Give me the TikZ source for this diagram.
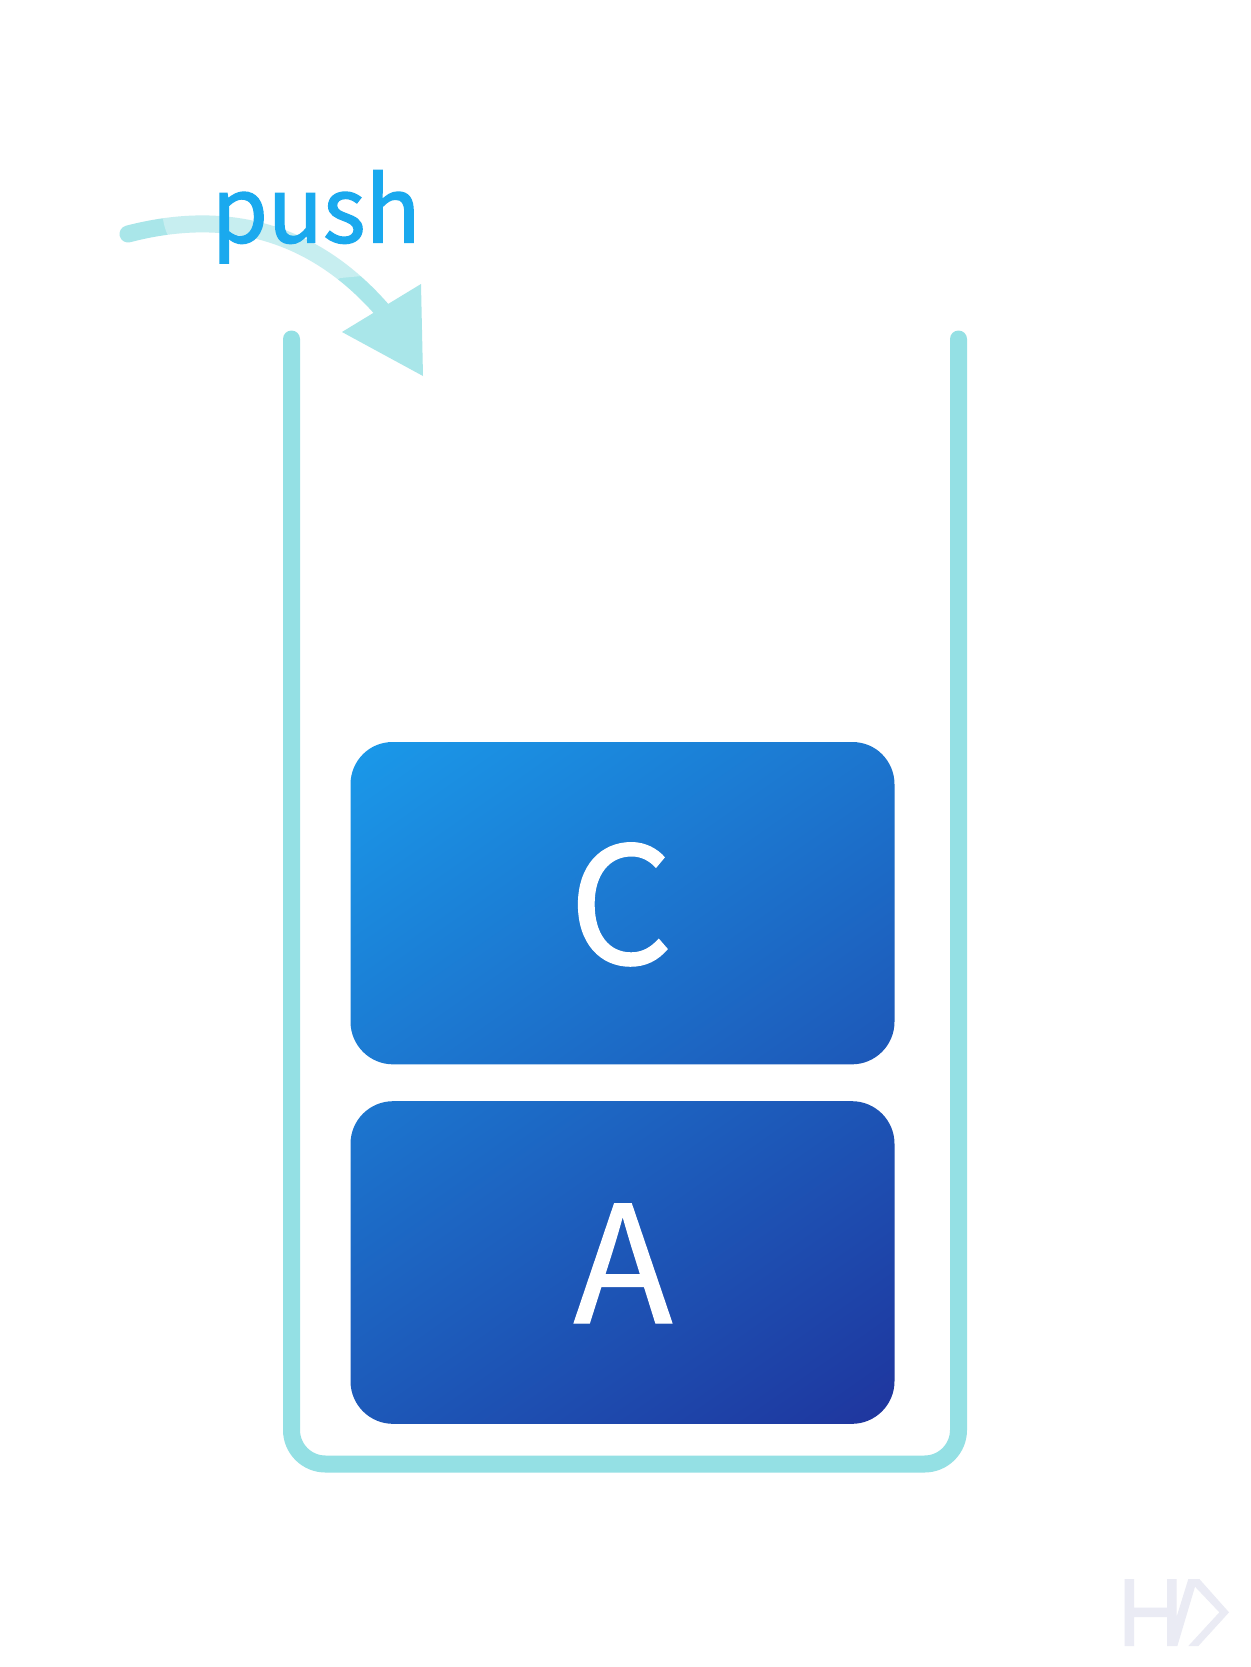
\documentclass[tikz,border=0pt]{standalone}
\usepackage{fontspec}
\setmainfont{Noto Sans CJK SC}
\newfontfamily\pushfont{Noto Sans CJK SC}[FakeBold=1.6]
\newfontfamily\blockfont{Noto Sans CJK SC}[FakeBold=0.8]
\definecolor{wallc}{HTML}{94E0E4}
\definecolor{arrowc}{HTML}{A9E6E9}
\definecolor{pushc}{HTML}{1AA9EE}
\definecolor{logoc}{HTML}{EAEBF4}
\definecolor{gradA}{HTML}{1A9FEE}
\definecolor{gradB}{HTML}{1F2F99}
\pgfdeclareverticalshading{blockgrad}{100bp}{color(0bp)=(gradB); color(11bp)=(gradB); color(89bp)=(gradA); color(100bp)=(gradA)}
\tikzset{
  wall/.style={draw=wallc,line width=12.75pt,line cap=round,line join=round},
  shaft/.style={draw=arrowc,line width=12.75pt,line cap=round},
  blockbase/.style={rectangle,rounded corners=32pt,minimum width=408pt,minimum height=242pt,inner sep=0pt},
  blocktext/.style={text=white,font=\blockfont\fontsize{122}{122}\selectfont,anchor=base,inner sep=0pt},
  pushtext/.style={text=pushc,font=\pushfont\fontsize{68}{68}\selectfont,anchor=base west,inner sep=0pt}
}
\begin{document}
\begin{tikzpicture}[x=0.75pt,y=-0.75pt]
\useasboundingbox (0,0) rectangle (1250,1667);
\fill[white] (0,0) rectangle (1250,1667);
% container
\coordinate (wallL) at (291.5,339);
\coordinate (wallBL) at (291.5,1464);
\coordinate (wallBR) at (958.5,1464);
\coordinate (wallR) at (958.5,339);
\draw[wall,rounded corners=25.5pt] (wallL) -- (wallBL) -- (wallBR) -- (wallR);
% blocks
\node[blockbase,path picture={\shade[shading=blockgrad,shading angle=35]
   (-272.5,-161) rectangle (272.5,521);}] (boxC) at (622.5,903) {};
\node[blockbase,path picture={\shade[shading=blockgrad,shading angle=35]
   (-272.5,-520.5) rectangle (272.5,161.5);}] (boxA) at (622.5,1262.5) {};
\node[blocktext] (labelC) at (621,964) {C};
\node[blocktext] (labelA) at (623,1323) {A};
% arrow
\coordinate (arrowStart) at (128,234);
\coordinate (tipA) at (342,332);
\coordinate (tipB) at (421,284);
\coordinate (tipC) at (423,376);
\coordinate (arrowEnd) at (384,312);
\draw[shaft] (arrowStart) .. controls (220,210) and (310,226) .. (arrowEnd);
\fill[arrowc] (tipA) -- (tipB) -- (tipC) -- cycle;
% translucent backing of the label
\fill[white,opacity=0.35] (162,205) -- (163,219) .. controls (164,226) and (166,232) .. (170,240)
  -- (330,285) -- (340,278) -- (362,276) -- (372,205) -- cycle;
\node[pushtext] (push) at (211.5,242.5) {push};
% logo
\begin{scope}[shift={(1100,1560)},x=0.25pt,y=-0.25pt]
\fill[logoc] (201,57) -- (230,57) -- (230,170) -- (265,57) -- (298,57) -- (387,157) -- (295,258)
  -- (265,258) -- (358,157) -- (285,80) -- (232,258) -- (201,258) -- (201,171) -- (102,171)
  -- (102,258) -- (74,258) -- (74,57) -- (102,57) -- (102,143) -- (201,143) -- cycle;
\end{scope}
\end{tikzpicture}
\end{document}
